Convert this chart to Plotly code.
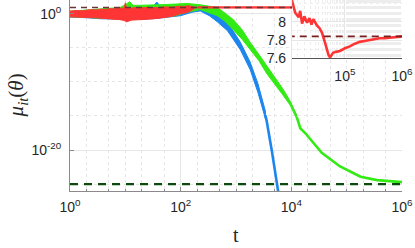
import plotly.graph_objects as go

# ---------------- data ----------------
# Main panel: noisy early band of each series (upper / lower envelope, log10 of mu)
red_band_t = [1, 1.3, 1.7, 2.3, 3, 3.5, 4.5, 5.2, 6.5, 8, 9.5, 10, 10.5, 13, 15, 20, 28, 38, 52, 70, 95, 115, 135, 160, 180, 200]
red_up_log10 = [0.37, 0.45, 0.42, 0.58, 0.55, 0.66, 0.62, 0.73, 0.70, 0.82, 0.78, 1.6, 0.85, 0.80, 0.90, 0.85, 0.92, 0.88, 0.98, 0.95, 1.10, 1.05, 1.17, 1.05, 1.0, 0.95]
red_lo_log10 = [-0.47, -0.45, -0.55, -0.58, -0.62, -0.66, -0.70, -0.73, -0.80, -0.88, -1.0, -1.1, -1.2, -0.95, -0.88, -0.85, -0.80, -0.70, -0.58, -0.40, -0.07, 0.10, 0.22, 0.50, 0.80, 0.90]

green_band_t = [1, 2, 4, 8, 10, 12, 14, 20, 40, 80, 130, 225, 300, 460, 630, 900, 1300, 1800, 2600, 3600, 5000, 7000, 9500, 12600]
green_up_log10 = [0.35, 0.50, 0.70, 0.90, 1.30, 1.75, 1.2, 1.20, 1.30, 1.40, 1.50, 1.30, 1.15, 0.9, 0.1, -0.9, -2.4, -4.2, -6.0, -7.6, -9.2, -11.0, -12.8, -14.9]
green_lo_log10 = [-0.45, -0.55, -0.65, -0.80, -0.85, -0.90, -0.9, -0.80, -0.60, -0.30, 0.20, 0.60, 0.20, -0.3, -1.1, -2.4, -3.8, -5.3, -6.9, -8.8, -10.4, -11.9, -13.4, -15.5]

green_tail_t = [12600, 14500, 17800, 35500, 76000, 178000, 355000, 600000, 1000000]
green_tail_log10 = [-15.2, -16.8, -17.5, -20.4, -22.4, -23.9, -24.4, -24.6, -24.7]

blue_band_t = [1, 2, 3.5, 8, 15, 30, 37, 45, 100, 160, 225, 330, 460, 700, 1200, 1800, 2500, 3400]
blue_up_log10 = [0.30, 0.45, 0.55, 0.70, 0.80, 0.85, 1.70, 0.90, 1.00, 1.10, 1.10, 0.50, -0.1, -1.2, -4.2, -7.1, -10.3, -14.3]
blue_lo_log10 = [-0.50, -0.60, -0.75, -0.80, -0.85, -0.75, -0.70, -0.70, -0.30, 0.20, 0.40, -0.30, -1.2, -2.5, -5.3, -8.2, -11.6, -15.4]

blue_tail_t = [3400, 3600, 4500, 5800, 6300]
blue_tail_log10 = [-14.9, -15.8, -20.4, -26.0, -28.0]

# Red series after the band (also shown zoomed in the inset)
red_t = [200, 300, 500, 1000, 2000, 5000, 10000, 11900, 13500, 15500, 16500, 17800, 19500, 21800, 24000, 26000, 28000,
         30000, 32400, 36000, 39800, 45000, 51500, 55000, 62000, 70000, 82000, 100000, 122000, 150000, 182000,
         220000, 270000, 330000, 405000, 500000, 675000, 800000, 1000000]
red_val = [8.4, 8.3, 8.35, 8.3, 8.3, 8.28, 8.25, 8.23, 8.10, 8.05, 8.12, 7.98, 8.06, 7.99, 8.04, 7.97, 8.03,
           7.99, 7.96, 7.93, 7.88, 7.77, 7.64, 7.61, 7.66, 7.67, 7.68, 7.71, 7.73, 7.76, 7.78,
           7.79, 7.80, 7.81, 7.82, 7.82, 7.83, 7.84, 7.84]

upper_ref = 7.84      # dashed reference level (top)
lower_ref = 1e-25     # dashed reference level (bottom)

main_xtick_vals = [1, 1e2, 1e4, 1e6]
main_xtick_text = ["10<sup>0</sup>", "10<sup>2</sup>", "10<sup>4</sup>", "10<sup>6</sup>"]
main_ytick_vals = [1e-20, 1]
main_ytick_text = ["10<sup>-20</sup>", "10<sup>0</sup>"]
main_yminor_vals = [1e-25, 1e-15, 1e-10, 1e-5]
inset_xtick_vals = [1e5, 1e6]
inset_xtick_text = ["10<sup>5</sup>", "10<sup>6</sup>"]
inset_ytick_vals = [7.6, 7.8, 8.0]
inset_ytick_text = ["7.6", "7.8", "8"]

# ---------------- styling ----------------
BLUE = "#1d86ee"
GREEN = "#33ea14"
RED = "#ff3434"
DARKRED = "#7a1f1f"
DKGREEN = "#0d4a0d"
GRID = "#e6e6e6"
MINOR = "#ededed"
AX = "#8a8a8a"
TXT = "#262626"
FONT = "Liberation Sans"


def band(t, up, lo):
    xs = list(t) + list(t)[::-1]
    ys = [10 ** v for v in up] + [10 ** v for v in lo][::-1]
    return xs, ys


fig = go.Figure()

# blue
bx, by = band(blue_band_t, blue_up_log10, blue_lo_log10)
fig.add_trace(go.Scatter(x=bx, y=by, fill="toself", fillcolor=BLUE, mode="lines",
                         line=dict(color=BLUE, width=1), hoverinfo="skip", showlegend=False))
fig.add_trace(go.Scatter(x=blue_tail_t, y=[10 ** v for v in blue_tail_log10], mode="lines",
                         line=dict(color=BLUE, width=2.6), showlegend=False))
# green
gx, gy = band(green_band_t, green_up_log10, green_lo_log10)
fig.add_trace(go.Scatter(x=gx, y=gy, fill="toself", fillcolor=GREEN, mode="lines",
                         line=dict(color=GREEN, width=1), hoverinfo="skip", showlegend=False))
fig.add_trace(go.Scatter(x=green_tail_t, y=[10 ** v for v in green_tail_log10], mode="lines",
                         line=dict(color=GREEN, width=2.6), showlegend=False))
# red
rx, ry = band(red_band_t, red_up_log10, red_lo_log10)
fig.add_trace(go.Scatter(x=rx, y=ry, fill="toself", fillcolor=RED, mode="lines",
                         line=dict(color=RED, width=1), hoverinfo="skip", showlegend=False))
fig.add_trace(go.Scatter(x=red_t, y=red_val, mode="lines",
                         line=dict(color=RED, width=2.4), showlegend=False))

# dashed reference lines (main)
fig.add_trace(go.Scatter(x=[1, 1e6], y=[upper_ref, upper_ref], mode="lines",
                         line=dict(color="#6a3535", width=1.6, dash="6px,5px"), showlegend=False))
fig.add_trace(go.Scatter(x=[1, 1e6], y=[lower_ref, lower_ref], mode="lines",
                         line=dict(color=DKGREEN, width=2.2, dash="8px,6px"), showlegend=False))

# inset
fig.add_trace(go.Scatter(x=red_t, y=red_val, mode="lines", xaxis="x2", yaxis="y2",
                         line=dict(color=RED, width=2.6), showlegend=False))
fig.add_trace(go.Scatter(x=[1e4, 1e6], y=[upper_ref, upper_ref], mode="lines", xaxis="x2", yaxis="y2",
                         line=dict(color=DARKRED, width=1.8, dash="7px,5px"), showlegend=False))

tickfont = dict(family=FONT, size=14, color=TXT)

fig.update_layout(
    width=415, height=248,
    margin=dict(l=70, r=13, t=0, b=57),
    paper_bgcolor="white", plot_bgcolor="white",
    showlegend=False,
    xaxis=dict(type="log", range=[0, 6], domain=[0, 1],
               tickmode="array", tickvals=main_xtick_vals, ticktext=main_xtick_text,
               tickfont=tickfont, ticks="inside", ticklen=4, tickcolor=AX,
               showline=True, linecolor=AX, linewidth=1, mirror=False,
               showgrid=True, gridcolor=GRID, gridwidth=1, zeroline=False,
               ticklabelstandoff=3, ticklabeloverflow="allow",
               minor=dict(ticks="inside", ticklen=2, tickcolor=AX, showgrid=True,
                          gridcolor=GRID, griddash="dot", gridwidth=1)),
    yaxis=dict(type="log", range=[-26, 2], domain=[0, 1],
               tickmode="array", tickvals=main_ytick_vals, ticktext=main_ytick_text,
               tickfont=tickfont, ticks="inside", ticklen=4, tickcolor=AX,
               showline=True, linecolor=AX, linewidth=1, mirror=False,
               showgrid=True, gridcolor=GRID, gridwidth=1, zeroline=False,
               ticklabelstandoff=5, ticklabeloverflow="allow",
               minor=dict(tickmode="array", tickvals=main_yminor_vals, ticks="",
                          showgrid=True, gridcolor=GRID, griddash="dot", gridwidth=1)),
    xaxis2=dict(type="log", range=[4.076, 6.0], domain=[0.669, 1.0], anchor="y2",
                tickmode="array", tickvals=inset_xtick_vals, ticktext=inset_xtick_text,
                tickfont=tickfont, ticks="", showline=True, linecolor="#555555", linewidth=1,
                showgrid=True, gridcolor=GRID, zeroline=False, ticklabelstandoff=5,
                ticklabeloverflow="allow",
                minor=dict(showgrid=True, gridcolor=MINOR, griddash="dot")),
    yaxis2=dict(range=[7.6, 8.24], domain=[0.695, 1.0], anchor="x2",
                tickmode="array", tickvals=inset_ytick_vals, ticktext=inset_ytick_text,
                tickfont=tickfont, ticks="", showline=False,
                showgrid=True, gridcolor=GRID, zeroline=False, ticklabelstandoff=5,
                ticklabeloverflow="allow",
                minor=dict(dtick=0.1, showgrid=True, gridcolor=MINOR, griddash="dot")),
    annotations=[
        dict(text="<i>μ</i><sub><i>it</i></sub>(<i>θ</i>)", xref="paper", yref="paper",
             x=-0.16, y=0.50, textangle=-90, showarrow=False,
             font=dict(family="Liberation Serif", size=21, color=TXT),
             xanchor="center", yanchor="middle"),
        dict(text="t", xref="paper", yref="paper", x=0.5, y=-0.23, showarrow=False,
             font=dict(family="Liberation Serif", size=20, color=TXT),
             xanchor="center", yanchor="middle"),
    ],
)

fig.write_html("out.html", config={"displayModeBar": False, "staticPlot": True})

# remove the browser's default 8px body margin so the figure sits at the page origin
with open("out.html", encoding="utf-8") as f:
    html = f.read()
html = html.replace("<body>", '<body style="margin:0;padding:0;overflow:hidden">', 1)
with open("out.html", "w", encoding="utf-8") as f:
    f.write(html)
